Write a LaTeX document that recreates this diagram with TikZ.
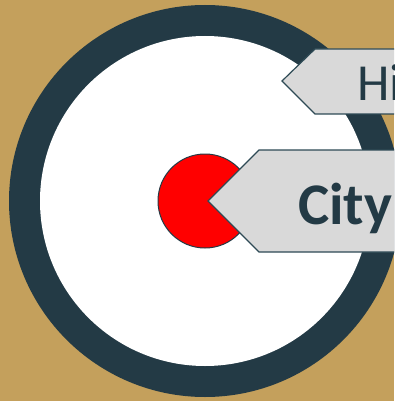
\documentclass[tikz,border=0pt]{standalone}
\usepackage{fontspec}
\setmainfont{Carlito}
\definecolor{bgtan}{HTML}{C4A05C}
\definecolor{darkslate}{HTML}{233A45}
\definecolor{boxgray}{HTML}{D9D9D9}
\definecolor{boxline}{HTML}{2E4A55}
\begin{document}
\begin{tikzpicture}[x=1pt,y=-1pt,
  ring/.style={circle,fill=darkslate,inner sep=0pt,minimum size=392pt},
  hole/.style={circle,fill=white,inner sep=0pt,minimum size=330pt},
  dot/.style={circle,fill=red,draw=darkslate,line width=1pt,inner sep=0pt,minimum size=94pt},
  tagbox/.style={fill=boxgray,draw=boxline,line width=1.2pt,line join=miter},
  tagtext/.style={anchor=base west,inner sep=0pt,text=darkslate}]
\useasboundingbox (0,0) rectangle (394,401);
\clip (0,0) rectangle (394,401);
\fill[bgtan] (0,0) rectangle (394,401);
\node[ring] (outer) at (205,201) {};
\node[hole] (inner) at (205,201) {};
\node[dot] (city dot) at (205,201) {};
\draw[tagbox] (420,49) -- (315,49) -- (282,81) -- (315,114) -- (420,114);
\draw[tagbox] (420,150) -- (259,150) -- (208,201) -- (259,252) -- (420,252);
\node[tagtext,font=\fontsize{52}{52}\selectfont] (hi) at (357,100) {Hi};
\node[tagtext,font=\fontsize{59}{59}\selectfont\bfseries] (city) at (298,224) {City};
\end{tikzpicture}
\end{document}
